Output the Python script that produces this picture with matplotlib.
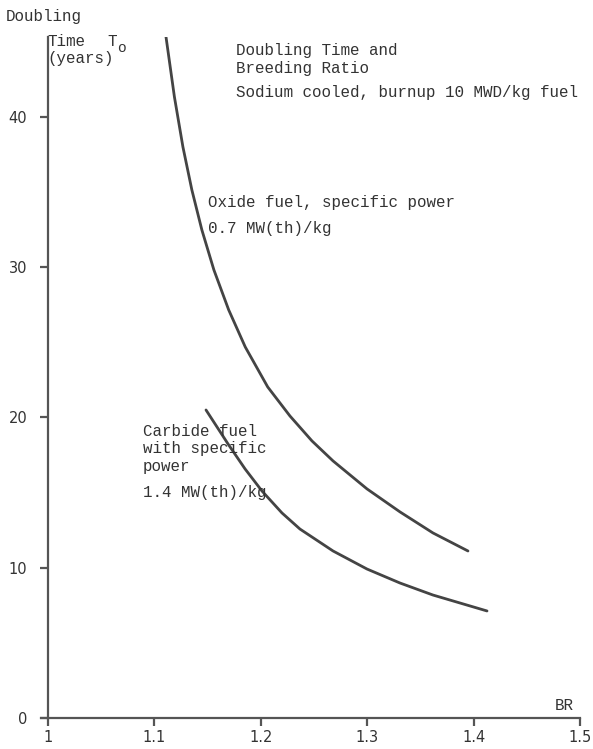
import matplotlib
matplotlib.use("Agg")
import matplotlib.pyplot as plt

# Data
oxide_br = [1.1109, 1.1188, 1.1268, 1.1352, 1.1446, 1.1559, 1.1698, 1.1854,
            1.2065, 1.2274, 1.2481, 1.2679, 1.2998, 1.3308, 1.3618, 1.3947]
oxide_t = [45.31, 41.32, 37.99, 35.13, 32.47, 29.81, 27.15, 24.68,
           22.02, 20.09, 18.43, 17.10, 15.24, 13.71, 12.31, 11.11]

carbide_br = [1.1485, 1.1692, 1.1852, 1.2011, 1.2199, 1.2368, 1.2679,
              1.2998, 1.3308, 1.3618, 1.4126]
carbide_t = [20.49, 18.23, 16.57, 15.10, 13.64, 12.57, 11.11,
             9.91, 8.98, 8.18, 7.12]

x_ticks = [1.0, 1.1, 1.2, 1.3, 1.4, 1.5]
x_tick_labels = ["1", "1.1", "1.2", "1.3", "1.4", "1.5"]
y_ticks = [0, 10, 20, 30, 40]
y_tick_labels = ["0", "10", "20", "30", "40"]

W, H = 593, 749
fig = plt.figure(figsize=(W / 100, H / 100), dpi=100)
fig.patch.set_facecolor("white")

x0, x1 = 48, 580
y0, y1 = 718, 37
ax = fig.add_axes([x0 / W, 1 - y0 / H, (x1 - x0) / W, (y0 - y1) / H])
ax.set_xlim(1.0, 1.5)
ax.set_ylim(0, 45.3)

line_col = "#444444"
text_col = "#333333"
mono = "Liberation Mono"

for xs, ys in [(oxide_br, oxide_t), (carbide_br, carbide_t)]:
    ax.plot(xs, ys, color=line_col, lw=2.0, solid_capstyle="round",
            solid_joinstyle="round")

for s in ["top", "right"]:
    ax.spines[s].set_visible(False)
for s in ["left", "bottom"]:
    ax.spines[s].set_color("#555555")
    ax.spines[s].set_linewidth(1.6)
ax.spines["bottom"].set_bounds(0.993, 1.5)

ax.set_xticks(x_ticks)
ax.set_xticklabels(x_tick_labels)
ax.set_yticks(y_ticks)
ax.set_yticklabels(y_tick_labels)
ax.tick_params(axis="both", direction="out", length=6, width=1.6, color="#555555",
               labelcolor=text_col, labelsize=10.5)
ax.tick_params(axis="x", pad=3)
ax.tick_params(axis="y", pad=9)
for lab in ax.get_xticklabels() + ax.get_yticklabels():
    lab.set_fontfamily("DejaVu Sans")

fs = 11.4
def ftext(px, py, s, **kw):
    fig.text(px / W, 1 - py / H, s, fontsize=kw.pop("size", fs), family=mono,
             color=text_col, va="center", ha="left", **kw)

ftext(6, 16, "Doubling")
ftext(47, 42, "Time")
ftext(47, 58, "(years)")
ftext(107, 41, "T")
ftext(117, 48, "o", size=10.5)

ftext(236, 50, "Doubling Time and")
ftext(236, 68, "Breeding Ratio")
ftext(236, 93, "Sodium cooled, burnup 10 MWD/kg fuel")

ftext(208, 203, "Oxide fuel, specific power")
ftext(208, 229, "0.7 MW(th)/kg")

ftext(143, 432, "Carbide fuel")
ftext(143, 449, "with specific")
ftext(143, 466, "power")
ftext(143, 492, "1.4 MW(th)/kg")

ftext(555, 706, "BR")

fig.savefig("out.png", dpi=100, facecolor="white")
